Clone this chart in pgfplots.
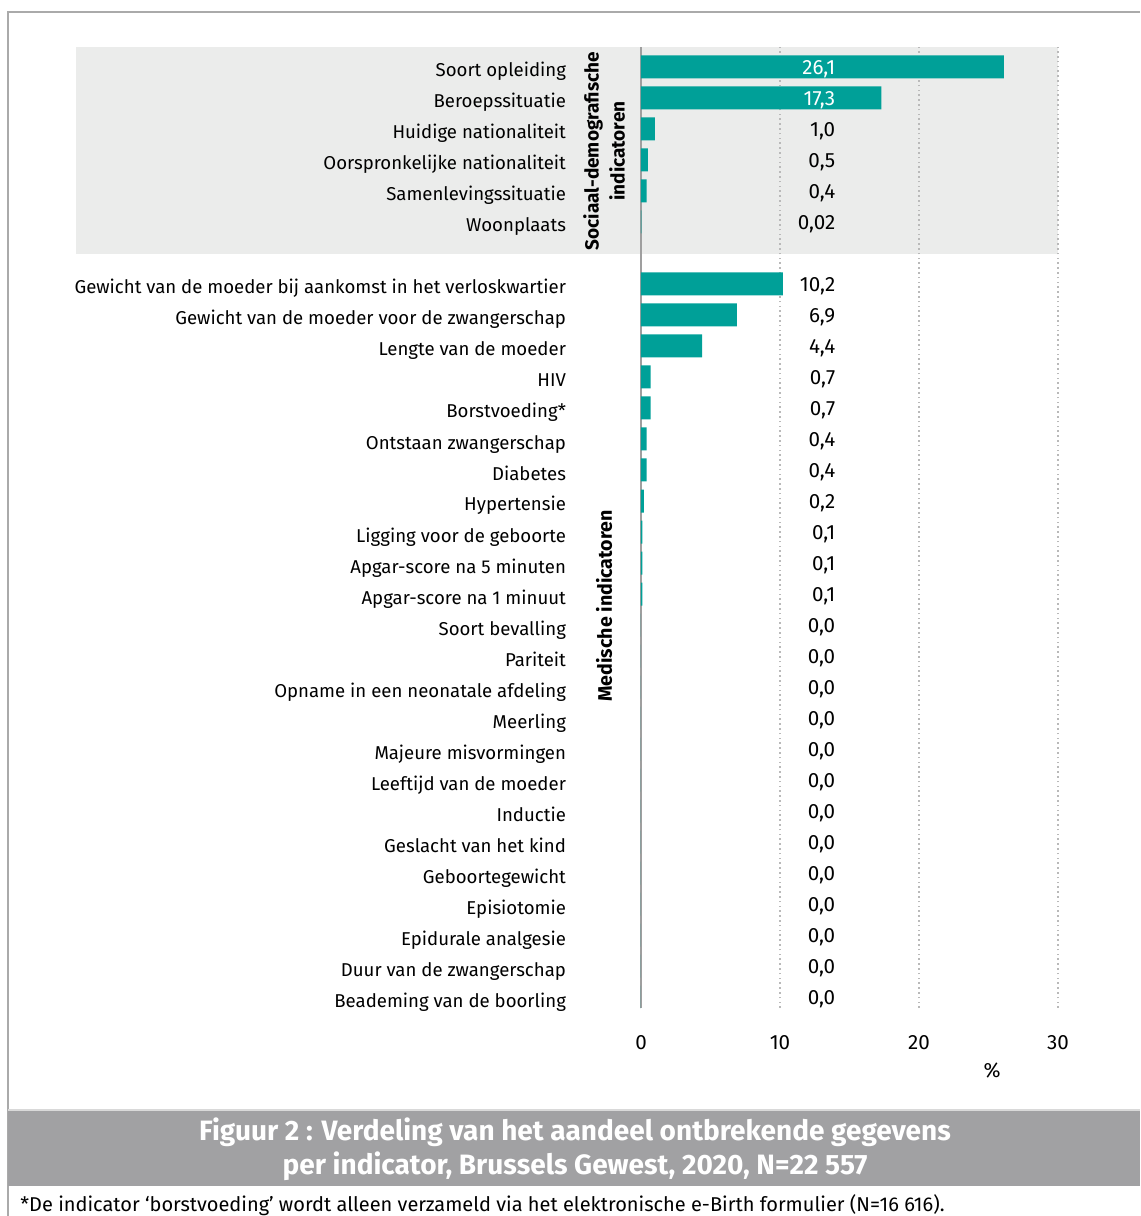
\documentclass[border=0pt]{standalone}
\usepackage{pgfplots}
\pgfplotsset{compat=1.18}
\usepackage{pgfplotstable}
\usepackage{fontspec}
\setmainfont{Fira Sans}
\definecolor{barc}{RGB}{0,160,152}
\definecolor{bandc}{RGB}{235,236,235}
\definecolor{bannerc}{RGB}{161,161,163}
\definecolor{framec}{RGB}{170,170,170}
\pgfplotstableread{
pos val lab
30 26.1 26,1
29 17.3 17,3
28 1.0 1,0
27 0.5 0,5
26 0.4 0,4
25 0.02 0,02
23 10.2 10,2
22 6.9 6,9
21 4.4 4,4
20 0.7 0,7
19 0.7 0,7
18 0.4 0,4
17 0.4 0,4
16 0.2 0,2
15 0.1 0,1
14 0.1 0,1
13 0.1 0,1
12 0.0 0,0
11 0.0 0,0
10 0.0 0,0
9 0.0 0,0
8 0.0 0,0
7 0.0 0,0
6 0.0 0,0
5 0.0 0,0
4 0.0 0,0
3 0.0 0,0
2 0.0 0,0
1 0.0 0,0
0 0.0 0,0
}\datatable
\newcommand{\lbl}{\fontsize{9.3}{11}\selectfont}
\newcommand{\vlbl}{\fontsize{10.3}{12}\selectfont}
\begin{document}
\begin{tikzpicture}
\begin{scope}[x=0.5pt,y=-0.5pt]
\useasboundingbox (0,0) rectangle (1131,1216);
% frame
\draw[framec, line width=1pt] (8,1216) -- (8,12) -- (1140,12);
% grey band
\fill[bandc] (76,47) rectangle (1058,254);
\end{scope}
\begin{axis}[
  at={(320.5pt,-504pt)}, anchor=south west,
  x=6.95pt, y=15.5pt,
  xmin=0, xmax=30, ymin=-0.355, ymax=30.645,
  axis line style={draw=none},
  major tick length=0pt,
  xtick={10,20,30},
  extra x ticks={0},
  extra x tick style={major grid style={solid, draw=gray!75, line width=0.9pt}},
  xmajorgrids,
  major grid style={draw=gray!55, line width=0.8pt, dash pattern=on 0.8pt off 1.6pt},
  ytick={0,...,23,25,26,...,30},
  yticklabels={Beademing van de boorling, Duur van de zwangerschap, Epidurale analgesie, Episiotomie, Geboortegewicht, Geslacht van het kind, Inductie, Leeftijd van de moeder, Majeure misvormingen, Meerling, Opname in een neonatale afdeling, Pariteit, Soort bevalling, Apgar-score na 1 minuut, Apgar-score na 5 minuten, Ligging voor de geboorte, Hypertensie, Diabetes, Ontstaan zwangerschap, Borstvoeding*, HIV, Lengte van de moeder, Gewicht van de moeder voor de zwangerschap, Gewicht van de moeder bij aankomst in het verloskwartier, Woonplaats, Samenlevingssituatie, Oorspronkelijke nationaliteit, Huidige nationaliteit, Beroepssituatie, Soort opleiding},
  yticklabel style={font=\lbl, anchor=base east, xshift=-34pt, yshift=-5pt},
  xticklabel style={font=\vlbl, yshift=-10pt},
  /pgf/number format/assume math mode=true,
  clip=false,
]
\addplot[xbar, bar width=11.5pt, fill=barc, draw=none, forget plot] table[x=val, y=pos]{\datatable};
\addplot[draw=none, mark=none, nodes near coords, point meta=explicit symbolic,
  every node near coord/.append style={anchor=east, inner sep=0pt, font=\vlbl, text=white, yshift=-1.2pt},
  skip coords between index={2}{40}, forget plot]
  table[x expr=14, y=pos, meta=lab]{\datatable};
\addplot[draw=none, mark=none, nodes near coords, point meta=explicit symbolic,
  every node near coord/.append style={anchor=east, inner sep=0pt, font=\vlbl, text=black, yshift=-1.2pt},
  skip coords between index={0}{2}, forget plot]
  table[x expr=14, y=pos, meta=lab]{\datatable};
\end{axis}
\begin{scope}[x=0.5pt,y=-0.5pt]
\node[font=\vlbl] at (992,1070) {\%};
\node[rotate=90, align=center, font=\fontsize{9.5}{13}\selectfont\bfseries] at (604,151) {Sociaal-demografische\\indicatoren};
\node[rotate=90, font=\fontsize{9.8}{13}\selectfont\bfseries] at (604,606) {Medische indicatoren};
% banner
\fill[bannerc] (8,1110) rectangle (1140,1186);
\draw[gray!30, line width=0.8pt] (8,1110) -- (1140,1110);
\node[align=center, text=white, font=\fontsize{14}{17}\selectfont\bfseries] at (575,1149) {Figuur 2 : Verdeling van het aandeel ontbrekende gegevens\\per indicator, Brussels Gewest, 2020, N=22 557};
\node[anchor=west, inner sep=0pt, font=\fontsize{10}{11}\selectfont] at (20,1205) {*De indicator ‘borstvoeding’ wordt alleen verzameld via het elektronische e-Birth formulier (N=16 616).};
\end{scope}
\end{tikzpicture}
\end{document}
